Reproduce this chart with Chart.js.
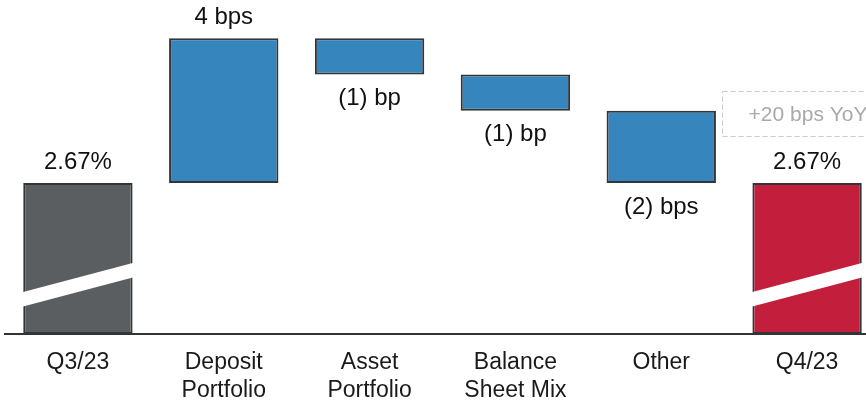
<!DOCTYPE html>
<html>
<head>
<meta charset="utf-8">
<script src="https://cdn.jsdelivr.net/npm/chart.js@4"></script>
<style>
  html, body { margin: 0; padding: 0; background: #fff; overflow: hidden; }
  .wrap { width: 880px; height: 405px; }
</style>
</head>
<body>
<div class="wrap"><canvas class="nimChart"></canvas></div>
<script>
// net interest margin bridge, values in basis points
const categories = [
  ["Q3/23"],
  ["Deposit", "Portfolio"],
  ["Asset", "Portfolio"],
  ["Balance", "Sheet Mix"],
  ["Other"],
  ["Q4/23"],
];
const startBps = 267;
const endBps = 267;
const changesBps = [4, -1, -1, -2];
const rateLabels = ["2.67%", "2.67%"];
const changeLabels = ["4 bps", "(1) bp", "(1) bp", "(2) bps"];
const yoyNote = "+20 bps YoY";

// the axis is broken, so the scale only covers the top of the margin
const axisFloor = 262.83;
const axisCeil = 272.06;

const fills = ["#5a5e61", "#3785bd", "#3785bd", "#3785bd", "#3785bd", "#c31f3d"];

const bars = [[axisFloor, startBps]];
let running = startBps;
changesBps.forEach((c) => {
  bars.push([running, running + c]);
  running += c;
});
bars.push([axisFloor, endBps]);

const barLabels = [rateLabels[0], ...changeLabels, rateLabels[1]];

const FONT = "'Liberation Sans', Arial, sans-serif";

const barText = {
  id: "barText",
  afterDatasetsDraw(chart) {
    const ctx = chart.ctx;
    const els = chart.getDatasetMeta(0).data;
    ctx.save();
    ctx.font = "24px " + FONT;
    ctx.fillStyle = "#111";
    ctx.textAlign = "center";
    ctx.textBaseline = "middle";
    els.forEach((el, i) => {
      const top = Math.min(el.y, el.base);
      const bottom = Math.max(el.y, el.base);
      const isDrop = i > 0 && i <= changesBps.length && changesBps[i - 1] < 0;
      ctx.fillText(barLabels[i], el.x, isDrop ? bottom + 24 : top - 21);
    });
    ctx.restore();
  },
};

// white slash through the first and last bars to show the axis break
const axisBreak = {
  id: "axisBreak",
  afterDatasetsDraw(chart) {
    const ctx = chart.ctx;
    const els = chart.getDatasetMeta(0).data;
    const b = chart.chartArea.bottom;
    ctx.save();
    ctx.fillStyle = "#fff";
    [els[0], els[els.length - 1]].forEach((el) => {
      const l = el.x - el.width / 2 - 2;
      const r = el.x + el.width / 2 + 2;
      ctx.beginPath();
      ctx.moveTo(l, b - 41.5);
      ctx.lineTo(r, b - 71.5);
      ctx.lineTo(r, b - 57);
      ctx.lineTo(l, b - 27);
      ctx.closePath();
      ctx.fill();
    });
    ctx.restore();
  },
};

const yoyBox = {
  id: "yoyBox",
  afterDraw(chart) {
    const ctx = chart.ctx;
    const els = chart.getDatasetMeta(0).data;
    const last = els[els.length - 1];
    const x = last.x - 84.5;
    ctx.save();
    ctx.strokeStyle = "#c9c9c9";
    ctx.lineWidth = 1;
    ctx.setLineDash([5, 3]);
    ctx.strokeRect(x, 91.5, 200, 45);
    ctx.setLineDash([]);
    ctx.font = "21px " + FONT;
    ctx.fillStyle = "#a9a9a9";
    ctx.textBaseline = "middle";
    ctx.fillText(yoyNote, x + 26, 115);
    ctx.restore();
  },
};

new Chart(document.querySelector(".nimChart"), {
  type: "bar",
  data: {
    labels: categories,
    datasets: [
      {
        data: bars,
        backgroundColor: fills,
        borderColor: "#333638",
        borderWidth: 2,
        borderSkipped: false,
        barPercentage: 0.75,
        categoryPercentage: 1,
        clip: 0,
      },
    ],
  },
  options: {
    responsive: true,
    maintainAspectRatio: false,
    animation: false,
    layout: { padding: { left: 5, right: 0, top: 0, bottom: 0 } },
    plugins: {
      legend: { display: false },
      tooltip: { enabled: false },
    },
    scales: {
      x: {
        grid: { display: false, drawTicks: false },
        border: { display: true, color: "#333", width: 2 },
        ticks: {
          color: "#1a1a1a",
          padding: 15,
          maxRotation: 0,
          autoSkip: false,
          font: { family: FONT, size: 23, lineHeight: 1.2 },
        },
        afterFit(scale) {
          scale.height = 71;
        },
      },
      y: {
        display: false,
        min: axisFloor,
        max: axisCeil,
      },
    },
  },
  plugins: [barText, axisBreak, yoyBox],
});
</script>
</body>
</html>
